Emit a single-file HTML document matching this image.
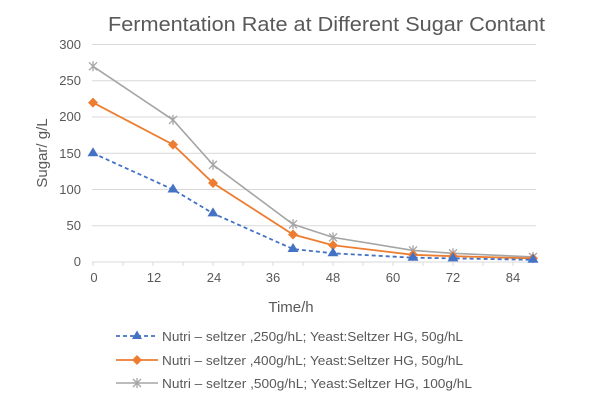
<!DOCTYPE html>
<html><head><meta charset="utf-8"><style>
html,body{margin:0;padding:0;background:#fff}
svg{display:block;font-family:"Liberation Sans",sans-serif}
</style></head><body>
<svg width="600" height="400" viewBox="0 0 600 400" xmlns="http://www.w3.org/2000/svg">
<rect width="600" height="400" fill="#fff"/>
<text x="108" y="31" font-size="20" fill="#595959" textLength="437" lengthAdjust="spacingAndGlyphs">Fermentation Rate at Different Sugar Contant</text>
<g stroke="#d9d9d9" stroke-width="1">
<line x1="92" y1="44.5" x2="536" y2="44.5"/>
<line x1="92" y1="80.7" x2="536" y2="80.7"/>
<line x1="92" y1="117" x2="536" y2="117"/>
<line x1="92" y1="153.2" x2="536" y2="153.2"/>
<line x1="92" y1="189.5" x2="536" y2="189.5"/>
<line x1="92" y1="225.7" x2="536" y2="225.7"/>
<line x1="92" y1="262" x2="536" y2="262"/>
<line x1="93" y1="262" x2="93" y2="266"/><line x1="123" y1="262" x2="123" y2="266"/><line x1="153" y1="262" x2="153" y2="266"/><line x1="183" y1="262" x2="183" y2="266"/><line x1="213" y1="262" x2="213" y2="266"/><line x1="243" y1="262" x2="243" y2="266"/><line x1="273" y1="262" x2="273" y2="266"/><line x1="303" y1="262" x2="303" y2="266"/><line x1="333" y1="262" x2="333" y2="266"/><line x1="363" y1="262" x2="363" y2="266"/><line x1="393" y1="262" x2="393" y2="266"/><line x1="423" y1="262" x2="423" y2="266"/><line x1="453" y1="262" x2="453" y2="266"/><line x1="483" y1="262" x2="483" y2="266"/><line x1="513" y1="262" x2="513" y2="266"/>
</g>
<g font-size="13" fill="#595959" text-anchor="end">
<text x="81" y="49">300</text><text x="81" y="85">250</text><text x="81" y="121">200</text><text x="81" y="158">150</text><text x="81" y="194">100</text><text x="81" y="230">50</text><text x="81" y="266">0</text>
</g>
<g font-size="13" fill="#595959" text-anchor="middle">
<text x="94" y="282">0</text><text x="154" y="282">12</text><text x="214" y="282">24</text><text x="273" y="282">36</text><text x="333" y="282">48</text><text x="393" y="282">60</text><text x="453" y="282">72</text><text x="513" y="282">84</text>
</g>
<text x="291" y="312" font-size="15" fill="#595959" text-anchor="middle">Time/h</text>
<text transform="translate(47,153) rotate(-90)" font-size="15" fill="#595959" text-anchor="middle">Sugar/ g/L</text>
<polyline fill="none" stroke="#a5a5a5" stroke-width="1.6" points="93,66.3 173,119.9 213,164.8 293,224.3 333,237.4 413,250.4 453,253.3 533,256.9"/>
<g stroke="#a5a5a5" stroke-width="1.3">
<path d="M89,62.3l8,8M97,62.3l-8,8M93,61.3v10M169,115.9l8,8M177,115.9l-8,8M173,114.9v10M209,160.8l8,8M217,160.8l-8,8M213,159.8v10M289,220.3l8,8M297,220.3l-8,8M293,219.3v10M329,233.4l8,8M337,233.4l-8,8M333,232.4v10M409,246.4l8,8M417,246.4l-8,8M413,245.4v10M449,249.3l8,8M457,249.3l-8,8M453,248.3v10M529,252.9l8,8M537,252.9l-8,8M533,251.9v10"/>
</g>
<polyline fill="none" stroke="#ed7d31" stroke-width="1.8" points="93,102.6 173,144.6 213,183 293,234.5 333,245.3 413,254.8 453,256.2 533,258.4"/>
<g fill="#ed7d31">
<path d="M93,97.6l5,5l-5,5l-5,-5z"/><path d="M173,139.6l5,5l-5,5l-5,-5z"/><path d="M213,178l5,5l-5,5l-5,-5z"/><path d="M293,229.5l5,5l-5,5l-5,-5z"/><path d="M333,240.3l5,5l-5,5l-5,-5z"/><path d="M413,249.8l5,5l-5,5l-5,-5z"/><path d="M453,251.2l5,5l-5,5l-5,-5z"/><path d="M533,253.4l5,5l-5,5l-5,-5z"/>
</g>
<polyline fill="none" stroke="#4472c4" stroke-width="1.8" stroke-dasharray="4,3" points="93,153.2 173,189.5 213,213.4 293,249 333,253.3 413,257.7 453,258.4 533,259.8"/>
<g fill="#4472c4">
<path d="M93,147.2l5.5,9h-11z"/><path d="M173,183.5l5.5,9h-11z"/><path d="M213,207.4l5.5,9h-11z"/><path d="M293,243l5.5,9h-11z"/><path d="M333,247.3l5.5,9h-11z"/><path d="M413,251.7l5.5,9h-11z"/><path d="M453,252.4l5.5,9h-11z"/><path d="M533,253.8l5.5,9h-11z"/>
</g>
<line x1="116" y1="336" x2="158" y2="336" stroke="#4472c4" stroke-width="1.8" stroke-dasharray="4,3"/>
<path d="M137,330.5l5,8.5h-10z" fill="#4472c4"/>
<text x="162" y="341" font-size="13" fill="#595959" textLength="301" lengthAdjust="spacingAndGlyphs">Nutri – seltzer ,250g/hL; Yeast:Seltzer HG, 50g/hL</text>
<line x1="116" y1="360" x2="158" y2="360" stroke="#ed7d31" stroke-width="1.8"/>
<path d="M137,355l5,5l-5,5l-5,-5z" fill="#ed7d31"/>
<text x="162" y="365" font-size="13" fill="#595959" textLength="301" lengthAdjust="spacingAndGlyphs">Nutri – seltzer ,400g/hL; Yeast:Seltzer HG, 50g/hL</text>
<line x1="116" y1="383" x2="158" y2="383" stroke="#a5a5a5" stroke-width="1.6"/>
<path d="M133,379l8,8M141,379l-8,8M137,378v10" stroke="#a5a5a5" stroke-width="1.3"/>
<text x="162" y="388" font-size="13" fill="#595959" textLength="310" lengthAdjust="spacingAndGlyphs">Nutri – seltzer ,500g/hL; Yeast:Seltzer HG, 100g/hL</text>
</svg>
</body></html>
